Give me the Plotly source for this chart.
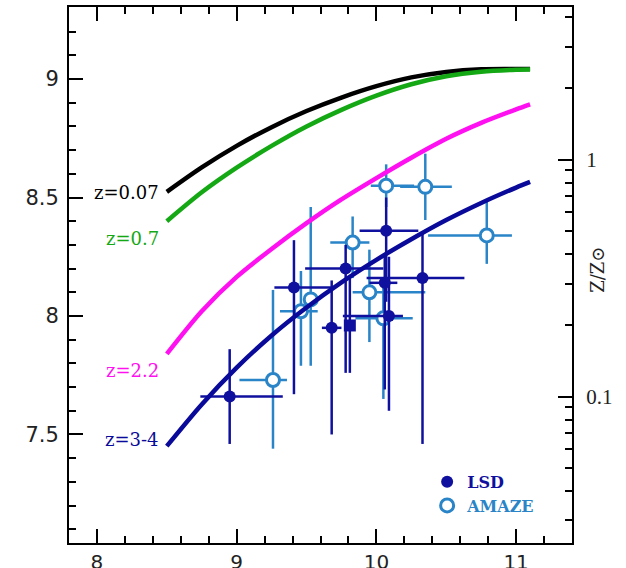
import plotly.graph_objects as go

# ---- model curves (12+log(O/H) vs log M*) ----
mass_grid = [8.5, 8.75, 9.0, 9.25, 9.5, 9.75, 10.0, 10.25, 10.5, 10.75, 11.0, 11.1]
oh_z007 = [8.524, 8.627, 8.718, 8.797, 8.865, 8.922, 8.970, 9.007, 9.030, 9.041, 9.042, 9.042]
oh_z07 = [8.400, 8.522, 8.626, 8.718, 8.800, 8.870, 8.930, 8.978, 9.012, 9.031, 9.039, 9.040]
oh_z22 = [7.840, 8.020, 8.165, 8.283, 8.392, 8.492, 8.582, 8.668, 8.748, 8.815, 8.872, 8.893]
oh_z34 = [7.451, 7.627, 7.782, 7.918, 8.036, 8.142, 8.237, 8.324, 8.405, 8.477, 8.542, 8.566]
curve_names = ["z=0.07", "z=0.7", "z=2.2", "z=3-4"]
label_y = [8.523, 8.325, 7.772, 7.480]

# ---- LSD sample (filled circles) ----
lsd_mass = [8.95, 9.41, 9.68, 9.78, 10.07, 10.06, 10.09, 10.33]
lsd_oh = [7.66, 8.12, 7.95, 8.20, 8.36, 8.14, 8.00, 8.16]
lsd_mass_lo = [0.21, 0.14, 0.07, 0.29, 0.19, 0.11, 0.33, 0.40]
lsd_mass_hi = [0.38, 0.27, 0.07, 0.27, 0.23, 0.09, 0.10, 0.30]
lsd_oh_hi = [0.20, 0.20, 0.20, 0.10, 0.14, 0.11, 0.25, 0.19]
lsd_oh_lo = [0.20, 0.45, 0.45, 0.44, 0.30, 0.45, 0.40, 0.70]

# LSD stacked point (filled square)
sq_mass = [9.81]
sq_oh = [7.96]
sq_oh_hi = [0.20]
sq_oh_lo = [0.20]

# ---- AMAZE sample (open circles) ----
am_mass = [10.07, 10.35, 10.79, 9.83, 9.95, 10.05, 9.53, 9.46, 9.26]
am_oh = [8.55, 8.545, 8.34, 8.31, 8.10, 7.99, 8.07, 8.02, 7.73]
am_mass_lo = [0.11, 0.18, 0.42, 0.16, 0.12, 0.20, 0.05, 0.15, 0.24]
am_mass_hi = [0.20, 0.19, 0.18, 0.12, 0.40, 0.21, 0.05, 0.12, 0.10]
am_oh_hi = [0.09, 0.14, 0.15, 0.11, 0.18, 0.15, 0.39, 0.17, 0.38]
am_oh_lo = [0.09, 0.14, 0.12, 0.15, 0.21, 0.34, 0.28, 0.23, 0.29]

# right axis ticks (Z/Zsun)
zz_major = [0.1, 1]
zz_labels = ["0.1", "1"]
zz_minor = [0.03, 0.04, 0.05, 0.06, 0.07, 0.08, 0.09,
            0.2, 0.3, 0.4, 0.5, 0.6, 0.7, 0.8, 0.9, 2, 3, 4]
OH_SUN = 8.66

C_BLACK = "#000000"
C_GREEN = "#14a814"
C_MAG = "#ff10f0"
C_NAVY = "#0a0a9a"
C_LSD = "#10109e"
C_AMZ = "#2a84c8"
curve_colors = [C_BLACK, C_GREEN, C_MAG, C_NAVY]

fig = go.Figure()

# AMAZE
fig.add_trace(go.Scatter(
    x=am_mass, y=am_oh, mode="markers",
    name='<span style="color:%s"><b>AMAZE</b></span>' % C_AMZ, legendrank=2,
    marker=dict(symbol="circle", size=13, color="white", line=dict(color=C_AMZ, width=3)),
    error_x=dict(type="data", symmetric=False, array=am_mass_hi, arrayminus=am_mass_lo,
                 color=C_AMZ, thickness=2.5, width=0),
    error_y=dict(type="data", symmetric=False, array=am_oh_hi, arrayminus=am_oh_lo,
                 color=C_AMZ, thickness=2.5, width=0),
))

# LSD square
fig.add_trace(go.Scatter(
    x=sq_mass, y=sq_oh, mode="markers", showlegend=False,
    marker=dict(symbol="square", size=12, color=C_LSD),
    error_y=dict(type="data", symmetric=False, array=sq_oh_hi, arrayminus=sq_oh_lo,
                 color=C_LSD, thickness=2.5, width=0),
))

# LSD
fig.add_trace(go.Scatter(
    x=lsd_mass, y=lsd_oh, mode="markers",
    name='<span style="color:%s"><b>LSD</b></span>' % C_LSD, legendrank=1,
    marker=dict(symbol="circle", size=12, color=C_LSD),
    error_x=dict(type="data", symmetric=False, array=lsd_mass_hi, arrayminus=lsd_mass_lo,
                 color=C_LSD, thickness=2.5, width=0),
    error_y=dict(type="data", symmetric=False, array=lsd_oh_hi, arrayminus=lsd_oh_lo,
                 color=C_LSD, thickness=2.5, width=0),
))

# model curves
for ys, col, nm, ly in zip([oh_z007, oh_z07, oh_z22, oh_z34], curve_colors, curve_names, label_y):
    fig.add_trace(go.Scatter(x=mass_grid, y=ys, mode="lines", showlegend=False,
                             line=dict(color=col, width=4.5, shape="spline", smoothing=0.8),
                             hoverinfo="skip"))
    fig.add_annotation(x=mass_grid[0], y=ly, xref="x", yref="y", text=nm, showarrow=False,
                       xanchor="right", yanchor="middle", xshift=-6,
                       font=dict(family="DejaVu Serif", size=18, color=col))

# dummy trace to activate right axis
fig.add_trace(go.Scatter(x=[None], y=[None], yaxis="y2", showlegend=False, hoverinfo="skip"))

tickfont = dict(family="DejaVu Sans", size=21, color="#222222")

fig.update_layout(
    width=626, height=568,
    margin=dict(l=69, r=54, t=7, b=25),
    paper_bgcolor="white", plot_bgcolor="white",
    showlegend=True,
    legend=dict(x=0.712, y=0.146, xanchor="left", yanchor="top", bgcolor="rgba(0,0,0,0)",
                font=dict(family="DejaVu Serif", size=16), borderwidth=0,
                itemsizing="trace", tracegroupgap=0),
    xaxis=dict(range=[7.8, 11.4], tick0=8, dtick=1, ticks="inside", ticklen=14, tickwidth=2,
               tickcolor="black", showline=True, linewidth=2, linecolor="black",
               mirror="ticks", showgrid=False, zeroline=False,
               tickfont=dict(family="DejaVu Sans", size=20, color="#222222"),
               ticklabelstandoff=0, automargin=False,
               minor=dict(tick0=8, dtick=0.2, ticks="inside", ticklen=7, tickwidth=2,
                          tickcolor="black", showgrid=False)),
    yaxis=dict(range=[7.042, 9.304], tick0=7.5, dtick=0.5, ticks="inside", ticklen=14,
               tickwidth=2, tickcolor="black", showline=True, linewidth=2, linecolor="black",
               showgrid=False, zeroline=False, tickfont=tickfont, ticklabelstandoff=4,
               automargin=False,
               minor=dict(tick0=7.5, dtick=0.1, ticks="inside", ticklen=7, tickwidth=2,
                          tickcolor="black", showgrid=False)),
    yaxis2=dict(type="log", overlaying="y", side="right",
                range=[7.042 - OH_SUN, 9.304 - OH_SUN],
                tickmode="array", tickvals=zz_major, ticktext=zz_labels,
                ticks="inside", ticklen=14, tickwidth=2, tickcolor="black",
                showline=True, linewidth=2, linecolor="black", showgrid=False,
                zeroline=False, ticklabelstandoff=8, automargin=False,
                tickfont=dict(family="Liberation Serif", size=21, color="#222222"),
                minor=dict(tickmode="array", tickvals=zz_minor, ticks="inside", ticklen=7,
                           tickwidth=2, tickcolor="black", showgrid=False)),
)

fig.add_annotation(x=1.075, y=0.51, xref="paper", yref="paper", text="Z/Z\u2299",
                   textangle=-90, showarrow=False,
                   font=dict(family="DejaVu Serif", size=18, color="#222222"))

fig.write_html("out.html")
